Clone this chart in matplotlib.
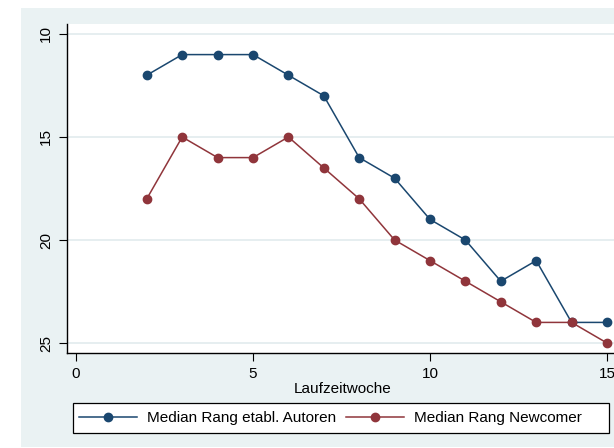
import matplotlib
matplotlib.use("Agg")
import matplotlib.pyplot as plt
from matplotlib.patches import Rectangle

weeks = [2, 3, 4, 5, 6, 7, 8, 9, 10, 11, 12, 13, 14, 15]
rank_established = [12, 11, 11, 11, 12, 13, 16, 17, 19, 20, 22, 21, 24, 24]
rank_newcomer = [18, 15, 16, 16, 15, 16.5, 18, 20, 21, 22, 23, 24, 24, 25]
x_ticks = [0, 5, 10, 15]
y_ticks = [10, 15, 20, 25]
labels = ["Median Rang etabl. Autoren", "Median Rang Newcomer"]

plt.rcParams['font.family'] = ['Liberation Sans', 'DejaVu Sans']

W, H = 614, 448
fig = plt.figure(figsize=(W / 100, H / 100), dpi=100)
fig.patch.set_facecolor('white')
bg = '#EAF2F3'
fig.patches.append(Rectangle((21 / W, 1 - 447 / H), 1.0, (447 - 8) / H,
                             transform=fig.transFigure, facecolor=bg,
                             edgecolor='none', zorder=-10))

left, right, top, bottom = 67, 617.6, 24, 353
ax = fig.add_axes([left / W, 1 - bottom / H, (right - left) / W, (bottom - top) / H])
ax.set_facecolor('white')
ax.set_xlim(-0.254, 15.3)
ax.set_ylim(25.485, 9.515)

for y in y_ticks:
    ax.axhline(y, color='#E4EDEF', lw=1.3, zorder=1)

blue = '#1A476F'
red = '#90353B'
ax.plot(weeks, rank_established, color=blue, lw=1.1, marker='o', ms=6, zorder=3, label=labels[0])
ax.plot(weeks, rank_newcomer, color=red, lw=1.1, marker='o', ms=6, zorder=3, label=labels[1])

ax.set_xticks(x_ticks)
ax.set_yticks(y_ticks)
ax.set_yticklabels([str(v) for v in y_ticks], rotation=90, va='center')
for s in ['top', 'right']:
    ax.spines[s].set_visible(False)
for s in ['left', 'bottom']:
    ax.spines[s].set_linewidth(1.0)
ax.tick_params(axis='both', length=6, width=0.8, labelsize=11, pad=4)
ax.set_xlabel('Laufzeitwoche', fontsize=11, labelpad=1)

# legend frame
fig.patches.append(Rectangle((73 / W, 1 - 433 / H), (609 - 73) / W, 30 / H,
                             transform=fig.transFigure, facecolor='white',
                             edgecolor='black', lw=0.9, zorder=-5))
leg = fig.legend(loc='center left', bbox_to_anchor=(79 / W, 1 - 418 / H),
                 ncol=2, frameon=False, fontsize=11,
                 handlelength=3.8, columnspacing=0.65, handletextpad=0.65,
                 borderpad=0, borderaxespad=0)

fig.savefig('out.png', dpi=100)
